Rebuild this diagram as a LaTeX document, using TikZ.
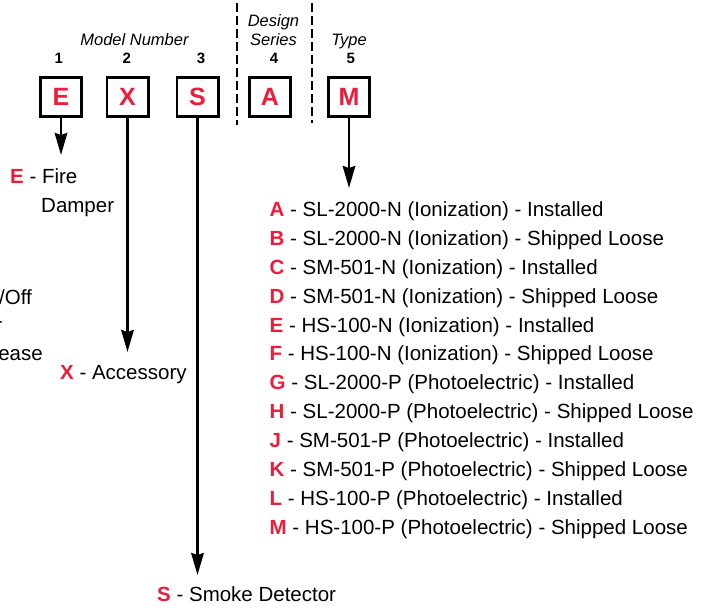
\documentclass[tikz,border=0pt]{standalone}
\usepackage{fontspec}
\setmainfont{Liberation Sans}
\usetikzlibrary{arrows.meta}
\definecolor{codered}{RGB}{237,28,58}
\newcommand{\cd}[1]{\textcolor{codered}{\textbf{#1}}}
\tikzset{
  digitbox/.style={draw, line width=2.6pt, minimum width=41.4pt, minimum height=39.4pt, inner sep=0pt, text=codered, font=\fontsize{25}{30}\selectfont\bfseries},
  place/.style={inner sep=0pt, anchor=base, font=\fontsize{15}{18}\selectfont\bfseries},
  head/.style={inner sep=0pt, anchor=base, font=\fontsize{16.5}{19}\selectfont\itshape},
  desc/.style={inner sep=0pt, anchor=base west, font=\fontsize{20.5}{24}\selectfont},
  lead/.style={line width=2.6pt, -{Stealth[length=22pt,width=12.5pt,inset=2pt]}},
  sepline/.style={line width=2.8pt, dash pattern=on 9pt off 4pt},
}
\begin{document}
\begin{tikzpicture}[x=1pt, y=-1pt]
        \useasboundingbox (0,0) rectangle (708,607);
        % code boxes
        \node[digitbox] (E) at (61, 97) {E};
        \node[digitbox] (X) at (127.5, 97) {X};
        \node[digitbox] (S) at (197.5, 97) {S};
        \node[digitbox] (A) at (270, 97) {A};
        \node[digitbox] (M) at (349, 97) {M};
        % headings
        \node[place] (n1) at (58.7, 64) {1};
        \node[place] (n2) at (126.7, 64) {2};
        \node[place] (n3) at (201, 64) {3};
        \node[place] (n4) at (274, 64) {4};
        \node[place] (n5) at (350.7, 64) {5};
        \node[head] (model) at (134.5, 46) {Model Number};
        \node[head] (design) at (273.5, 27) {Design};
        \node[head] (series) at (273.5, 46) {Series};
        \node[head] (type) at (349, 46) {Type};
        \draw[sepline] (237, 3) -- (237, 125);
        \draw[sepline] (312, 3) -- (312, 123);
        % arrows
        \coordinate (Eend) at (61, 155);
        \coordinate (Xend) at (127.5, 352);
        \coordinate (Send) at (197.5, 575);
        \coordinate (Mend) at (349, 188);
        \draw[lead] (E) -- (Eend);
        \draw[lead] (X) -- (Xend);
        \draw[lead] (S) -- (Send);
        \draw[lead] (M) -- (Mend);
        % descriptions
        \node[desc] (fire) at (10, 183) {\cd{E} - Fire};
        \node[desc] (damper) at (41, 212.5) {Damper};
        \node[desc] (accessory) at (60, 379) {\cd{X} - Accessory};
        \node[desc] (smoke) at (157, 601.5) {\cd{S} - Smoke Detector};
        % cut off at the left edge
        \node[desc, anchor=base east] (onoff) at (32, 304) {Damper On/Off};
        \node[desc, anchor=base east] (actuator) at (2.5, 332) {Actuator};
        \node[desc, anchor=base east] (release) at (43, 360) {Release};
        % detector types
        \foreach \k/\txt [count=\i from 0] in {A/SL-2000-N (Ionization) - Installed,
            B/SL-2000-N (Ionization) - Shipped Loose, C/SM-501-N (Ionization) - Installed,
            D/SM-501-N (Ionization) - Shipped Loose, E/HS-100-N (Ionization) - Installed,
            F/HS-100-N (Ionization) - Shipped Loose, G/SL-2000-P (Photoelectric) - Installed,
            H/SL-2000-P (Photoelectric) - Shipped Loose, J/SM-501-P (Photoelectric) - Installed,
            K/SM-501-P (Photoelectric) - Shipped Loose, L/HS-100-P (Photoelectric) - Installed,
            M/HS-100-P (Photoelectric) - Shipped Loose}
        \node[desc] (type\k) at (269.5, {216.7+28.85*\i}) {\cd{\k} - \txt};
\end{tikzpicture}
\end{document}
